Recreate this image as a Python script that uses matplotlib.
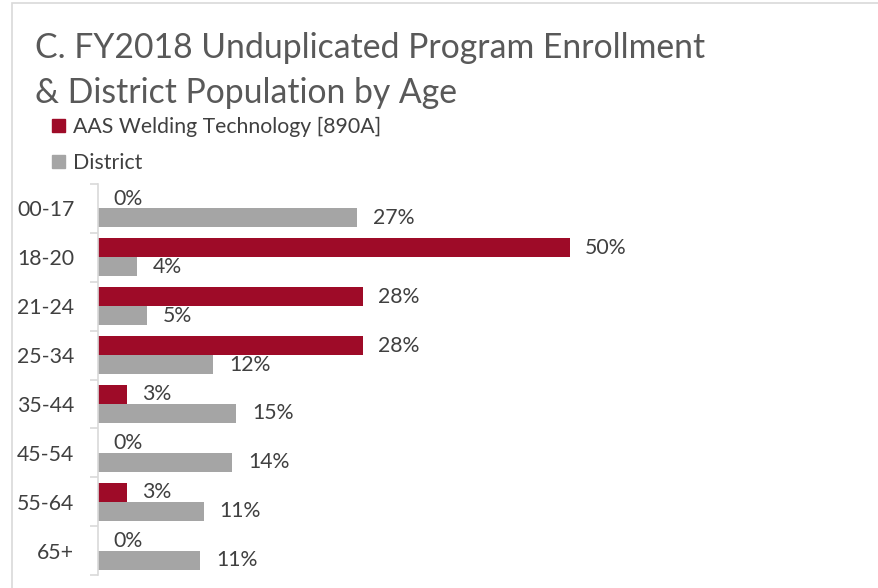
"""Program enrollment vs district population by age, horizontal grouped bars."""

import matplotlib.pyplot as plt
import numpy as np
from matplotlib.patches import Patch, Rectangle

plt.rcParams["font.family"] = ["Lato", "DejaVu Sans"]

age_groups = ["00-17", "18-20", "21-24", "25-34", "35-44", "45-54", "55-64", "65+"]
program_pct = [0.0, 50.0, 28.1, 28.1, 3.1, 0.0, 3.1, 0.0]
district_pct = [27.4, 4.1, 5.2, 12.2, 14.6, 14.2, 11.2, 10.8]
series_names = ["AAS Welding Technology [890A]", "District"]

RED = "#9E0B28"
GREY = "#A5A5A5"
TEXT = "#404040"
LINE = "#D9D9D9"

W, H = 879, 588
fig = plt.figure(figsize=(W / 100, H / 100), dpi=100)

# light chart border
fig.patches.append(Rectangle((12 / W, -0.1), 1.1, (H - 3) / H + 0.1,
                             transform=fig.transFigure, fill=False,
                             edgecolor=LINE, linewidth=1.2))

ax = fig.add_axes([98 / W, 13 / H, (860 - 98) / W, (575 - 184) / H])

y = np.arange(len(age_groups))
bh = 0.39
ax.barh(y - bh / 2, program_pct, height=bh, color=RED)
ax.barh(y + bh / 2, district_pct, height=bh, color=GREY)

LBL = 15.3
for yi, v in zip(y, program_pct):
    ax.annotate(f"{round(v)}%", (v, yi - bh / 2), xytext=(15, 0),
                textcoords="offset pixels", ha="left", va="center",
                fontsize=LBL, color=TEXT)
for yi, v in zip(y, district_pct):
    ax.annotate(f"{round(v)}%", (v, yi + bh / 2), xytext=(16, 0),
                textcoords="offset pixels", ha="left", va="center",
                fontsize=LBL, color=TEXT)

ax.set_xlim(0, (860 - 98) / 9.44)
ax.set_ylim(len(age_groups) - 0.5, -0.5)
ax.set_yticks(y)
ax.set_yticklabels(age_groups, fontsize=LBL, color=TEXT)
ax.set_yticks(np.arange(len(age_groups) + 1) - 0.5, minor=True)
ax.tick_params(axis="y", which="major", length=0, pad=17)
ax.tick_params(axis="y", which="minor", length=6, color=LINE, width=1.2)
ax.set_xticks([])
for side in ["top", "right", "bottom"]:
    ax.spines[side].set_visible(False)
ax.spines["left"].set_color(LINE)
ax.spines["left"].set_linewidth(1.2)

fig.text(35 / W, 1 - 48 / H, "C. FY2018 Unduplicated Program Enrollment",
         fontsize=24.3, color="#595959", va="center", ha="left")
fig.text(35 / W, 1 - 93 / H, "& District Population by Age",
         fontsize=24.3, color="#595959", va="center", ha="left")

handles = [Patch(color=RED), Patch(color=GREY)]
fig.legend(handles, series_names, loc="upper left",
           bbox_to_anchor=(52 / W, 1 - 117 / H), frameon=False,
           handlelength=0.6, handleheight=0.6, handletextpad=0.4,
           labelspacing=0.75, prop={"size": LBL}, labelcolor=TEXT,
           borderaxespad=0, borderpad=0)

fig.savefig("out.png", dpi=100)
